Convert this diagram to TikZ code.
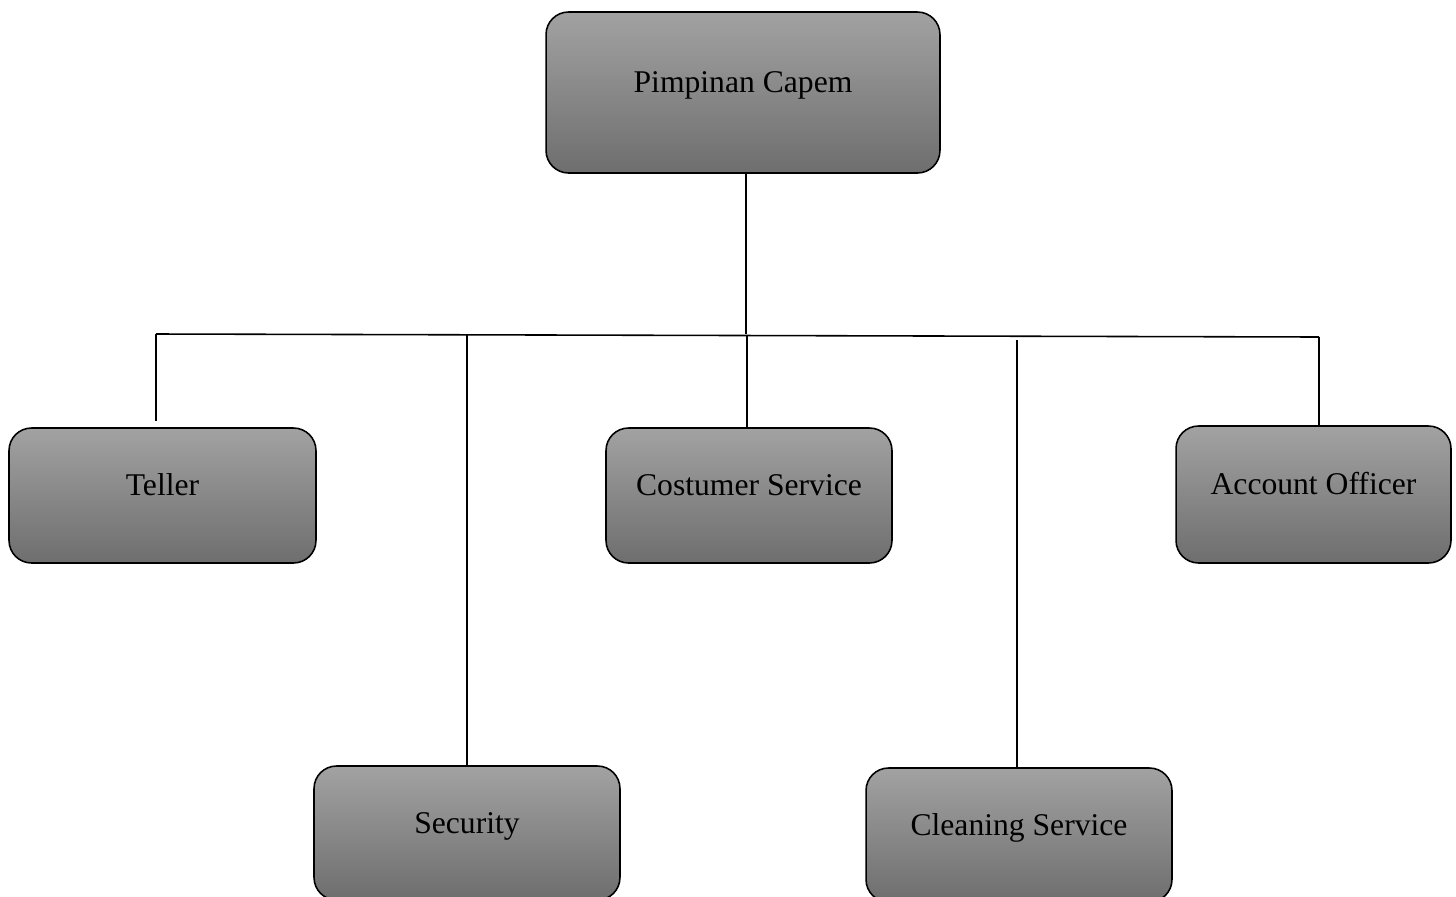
\documentclass[tikz,border=0pt]{standalone}
\usepackage{fontspec}
\setmainfont{Liberation Serif}
\usetikzlibrary{positioning,calc}
\definecolor{boxtop}{RGB}{162,162,162}
\definecolor{boxbottom}{RGB}{110,110,110}
\def\boxradius{0.45cm}
\def\boxheight{2.7cm}

\tikzset{
  orgbox/.style={draw=black, line width=0.9pt, rounded corners=\boxradius,
    top color=boxtop, bottom color=boxbottom,
    minimum height=\boxheight, text height=0.7em, text depth=0.7em,
    font=\fontsize{18}{21}\selectfont, inner sep=0pt},
  orgline/.style={line width=0.9pt}
}

\begin{document}
\begin{tikzpicture}[x=0.02cm, y=-0.02cm]
  \useasboundingbox (0,0) rectangle (1456,896);

  \node[orgbox, minimum width=7.88cm, minimum height=3.22cm] (pimpinan) at (743,92.5) {Pimpinan Capem};
  \node[orgbox, minimum width=6.14cm] (teller) at (162.5,495.5) {Teller};
  \node[orgbox, minimum width=5.72cm] (costumer) at (749,495.5) {Costumer Service};
  \node[orgbox, minimum width=5.5cm, minimum height=2.74cm] (account) at (1313.5,494.5) {Account Officer};
  \node[orgbox, minimum width=6.12cm, minimum height=2.68cm] (security) at (467,833) {Security};
  \node[orgbox, minimum width=6.12cm, minimum height=2.68cm] (cleaning) at (1019,835) {Cleaning Service};

  % bus line
  \coordinate (busL) at (156,334);
  \coordinate (busR) at (1319,337);
  \coordinate (busP) at (746,334);
  \coordinate (tellerEnd) at (156,421);
  \coordinate (secTop) at (467,335);
  \coordinate (csTop) at (747,335);
  \coordinate (clnTop) at (1017,340);

  \draw[orgline] (busL) -- (busR);
  \draw[orgline] (pimpinan.south -| busP) -- (busP);
  \draw[orgline] (busL) -- (tellerEnd);
  \draw[orgline] (secTop) -- (secTop |- security.north);
  \draw[orgline] (csTop) -- (csTop |- costumer.north);
  \draw[orgline] (clnTop) -- (clnTop |- cleaning.north);
  \draw[orgline] (busR) -- (busR |- account.north);
\end{tikzpicture}
\end{document}
